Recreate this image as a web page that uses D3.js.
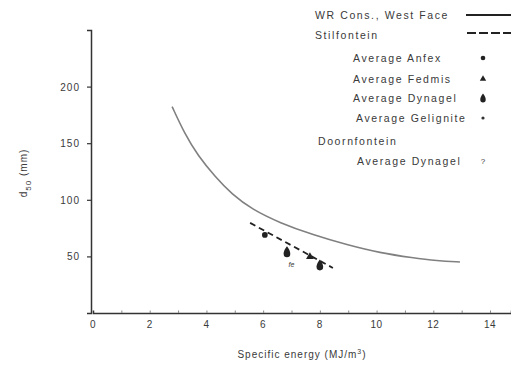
<!DOCTYPE html>
<html><head><meta charset="utf-8">
<script src="https://cdn.jsdelivr.net/npm/d3@7"></script>
<style>
html,body{margin:0;padding:0;background:#fff;}
text{font-family:"Liberation Sans",Arial,sans-serif;fill:#3a3a3a;}
</style></head>
<body><svg id="c" width="511" height="369"></svg>
<script>
// ---- data ----
const xTicks = [0, 2, 4, 6, 8, 10, 12, 14];
const yTicks = [50, 100, 150, 200];
// WR Cons., West Face curve (specific energy, d50)
const wrEnergy = [2.79, 3.24, 3.70, 4.30, 4.90, 5.61, 6.59, 7.76, 8.96, 10.12, 11.28, 12.13, 12.94];
const wrD50    = [182.3, 158.0, 139.0, 120.5, 104.8, 91.5, 79.6, 69.0, 60.2, 53.1, 48.7, 46.2, 45.1];
// Stilfontein dashed fit
const stEnergy = [5.54, 8.46];
const stD50    = [79.6, 39.8];
// Stilfontein averages
const ptNames  = ["Average Anfex", "Average Dynagel", "Average Fedmis", "Average Dynagel"];
const ptType   = ["circle", "drop", "triangle", "drop"];
const ptEnergy = [6.06, 6.84, 7.65, 8.0];
const ptD50    = [69, 54, 49.6, 42.5];
// Doornfontein average Dynagel
const dfEnergy = [7.0];
const dfD50    = [43];
// legend
const legLabels = ["WR Cons., West Face", "Stilfontein", "Average Anfex", "Average Fedmis",
  "Average Dynagel", "Average Gelignite", "Doornfontein", "Average Dynagel"];
const legKind = ["line", "dash", "circle", "triangle", "drop", "dot", "none", "q"];

const svg = d3.select("#c");
const x = d3.scaleLinear().domain([0, 14.74]).range([93, 511]);
const y = d3.scaleLinear().domain([0, 250]).range([313, 30]);

const ink = "#333";

// axes
const xAxis = d3.axisBottom(x).tickValues(d3.range(1, 15)).tickSize(-2.5).tickFormat("");
const gx = svg.append("g").attr("transform", "translate(0,313)").call(xAxis);
gx.select(".domain").attr("stroke", ink).attr("stroke-width", 1.5);
gx.selectAll(".tick line").attr("stroke", "#888").attr("stroke-width", 1);
const yAxis = d3.axisLeft(y).tickValues(yTicks).tickSize(4).tickFormat("");
const gy = svg.append("g").attr("transform", "translate(91,0)").call(yAxis);
gy.select(".domain").attr("stroke", ink).attr("stroke-width", 1.5);
gy.selectAll(".tick line").attr("stroke", ink).attr("stroke-width", 1.2);

svg.append("g").selectAll("text").data(xTicks).join("text")
  .attr("x", d => x(d)).attr("y", 328).attr("text-anchor", "middle")
  .attr("font-size", 10).attr("letter-spacing", 0.5).text(d => d);
svg.append("g").selectAll("text").data(yTicks).join("text")
  .attr("x", 80).attr("y", d => y(d) + 4).attr("text-anchor", "end")
  .attr("font-size", 10).attr("letter-spacing", 1).text(d => d);

// axis titles
const xt = svg.append("text").attr("x", 302).attr("y", 358).attr("text-anchor", "middle")
  .attr("font-size", 10).attr("letter-spacing", 1);
xt.append("tspan").text("Specific energy (MJ/m");
xt.append("tspan").attr("font-size", 7).attr("dy", -4).text("3");
xt.append("tspan").attr("dy", 4).text(")");
const yt = svg.append("text").attr("transform", "translate(27,173) rotate(-90)")
  .attr("text-anchor", "middle").attr("font-size", 10).attr("letter-spacing", 1);
yt.append("tspan").text("d");
yt.append("tspan").attr("font-size", 8).attr("dy", 4).text("50");
yt.append("tspan").attr("dy", -4).text("  (mm)");

// WR curve
const wr = wrEnergy.map((e, i) => [e, wrD50[i]]);
svg.append("path").datum(wr)
  .attr("d", d3.line().x(d => x(d[0])).y(d => y(d[1])).curve(d3.curveBasis))
  .attr("fill", "none").attr("stroke", "#808080").attr("stroke-width", 1.6);

// Stilfontein dashed
const st = stEnergy.map((e, i) => [e, stD50[i]]);
svg.append("path").datum(st)
  .attr("d", d3.line().x(d => x(d[0])).y(d => y(d[1])))
  .attr("fill", "none").attr("stroke", "#222").attr("stroke-width", 1.8)
  .attr("stroke-dasharray", "6,4");

function dropPath(s) {
  return `M0,${-5 * s} C${2.5 * s},${-2 * s} ${3.2 * s},${1 * s} ${3 * s},${2 * s} ` +
    `A${3 * s},${3 * s} 0 1 1 ${-3 * s},${2 * s} C${-3.2 * s},${1 * s} ${-2.5 * s},${-2 * s} 0,${-5 * s}Z`;
}
function drawSym(g, kind, cx, cy, s) {
  if (kind === "circle") g.append("circle").attr("cx", cx).attr("cy", cy).attr("r", 2.6 * s).attr("fill", "#222");
  else if (kind === "dot") g.append("circle").attr("cx", cx).attr("cy", cy).attr("r", 1.6).attr("fill", "#333");
  else if (kind === "triangle") g.append("path").attr("transform", `translate(${cx},${cy})`)
    .attr("d", d3.symbol(d3.symbolTriangle, 22 * s * s)()).attr("fill", "#222");
  else if (kind === "drop") g.append("path").attr("transform", `translate(${cx},${cy})`)
    .attr("d", dropPath(s)).attr("fill", "#222");
  else if (kind === "q") g.append("text").attr("x", cx).attr("y", cy + 3).attr("text-anchor", "middle")
    .attr("font-size", 8).text("?");
}
const pts = svg.append("g");
ptEnergy.forEach((e, i) => drawSym(pts, ptType[i], x(e), y(ptD50[i]), 1.1));
dfEnergy.forEach((e, i) => pts.append("text").attr("x", x(e)).attr("y", y(dfD50[i]) + 3)
  .attr("text-anchor", "middle").attr("font-size", 7).attr("font-style", "italic").text("fe"));

// legend
const legX = [315, 315, 353, 353, 353, 356, 318, 357];
const legY = [15, 35, 58, 79, 98, 118, 141, 161];
const leg = svg.append("g");
legLabels.forEach((t, i) => {
  leg.append("text").attr("x", legX[i]).attr("y", legY[i] + 4).attr("font-size", 10.5)
    .attr("letter-spacing", 1.6).text(t);
  const k = legKind[i];
  if (k === "line") leg.append("line").attr("x1", 466).attr("x2", 511).attr("y1", legY[i]).attr("y2", legY[i])
    .attr("stroke", "#222").attr("stroke-width", 1.8);
  else if (k === "dash") leg.append("line").attr("x1", 467).attr("x2", 511).attr("y1", legY[i] - 2).attr("y2", legY[i] - 2)
    .attr("stroke", "#222").attr("stroke-width", 1.8).attr("stroke-dasharray", "9,3");
  else if (k !== "none") drawSym(leg, k, 483, legY[i], 0.9);
});
</script></body></html>
